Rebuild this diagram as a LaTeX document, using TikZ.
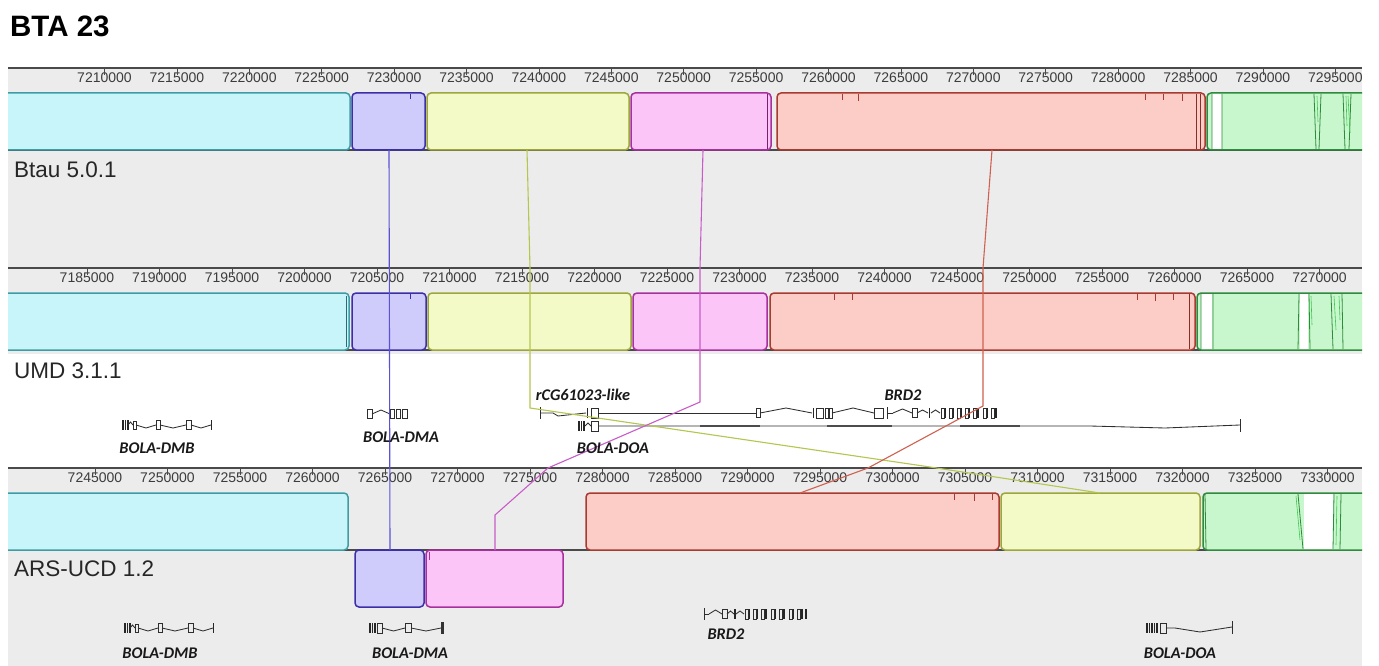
\documentclass[tikz,border=0pt]{standalone}
\usepackage{fontspec}
\setmainfont{Liberation Sans}
\newfontfamily\genefont{Carlito}
\usetikzlibrary{calc}

\definecolor{panelgray}{HTML}{ECECEC}
\definecolor{rulerdark}{HTML}{4A4A4A}
\definecolor{ticktext}{HTML}{3C3C3C}
\definecolor{cyanF}{HTML}{C8F5FA}
\definecolor{cyanD}{HTML}{3E9CA4}
\definecolor{blueF}{HTML}{CFCBFA}
\definecolor{blueD}{HTML}{3A2FA8}
\definecolor{yelF}{HTML}{F3FAC8}
\definecolor{yelD}{HTML}{9CA63A}
\definecolor{pinkF}{HTML}{FBC6F7}
\definecolor{pinkD}{HTML}{A8309E}
\definecolor{redF}{HTML}{FCCDC6}
\definecolor{redD}{HTML}{A83A30}
\definecolor{grnF}{HTML}{C9F7CD}
\definecolor{grnD}{HTML}{2E8A3C}
\definecolor{grnL}{HTML}{3CC84E}
\definecolor{cBlue}{HTML}{5B50D6}
\definecolor{cOlive}{HTML}{B5C64E}
\definecolor{cPink}{HTML}{C85CC8}
\definecolor{cRed}{HTML}{D0604F}

\tikzset{
 panel/.style={fill=panelgray, draw=none},
 rulerline/.style={draw=rulerdark, line width=1.3pt},
 tickmark/.style={draw=rulerdark, line width=0.6pt},
 ticklab/.style={font=\fontsize{14}{16}\selectfont, text=ticktext, inner sep=0pt},
 lcb/.style={rounded corners=4pt, line width=1.5pt, inner sep=0pt, outer sep=0pt},
 baseline/.style={draw=rulerdark, line width=1.3pt},
 conn/.style={line width=1.1pt},
 titlestyle/.style={font=\bfseries\fontsize{29.5}{33}\selectfont, anchor=base west, inner sep=0pt},
 genome/.style={font=\fontsize{22.5}{26}\selectfont, text=black!85, anchor=base west, inner sep=0pt},
 genelab/.style={font=\genefont\bfseries\itshape\fontsize{16.3}{18}\selectfont, text=black!90, inner sep=0pt},
 glyph/.style={draw=black!82, line width=0.85pt},
 thinbar/.style={draw=black!85, line width=1.2pt},
 inner/.style={line width=0.8pt},
}

% name x1 y1 x2 y2 colour-prefix
\newcommand\lcbblock[6]{%
  \node[lcb, draw=#6D, fill=#6F, minimum width={(#4-#2)*1pt}, minimum height={(#5-#3)*1pt}] (#1) at ({(#2+#4)/2},{(#3+#5)/2}) {};}
% exon box: x y w h
\newcommand\gnex[4]{\draw[glyph] (#1,{#2-#4/2}) rectangle ({#1+#3},{#2+#4/2});}
% thin filled exon: x y h
\newcommand\gnbar[3]{\draw[thinbar] (#1,{#2-#3/2}) -- (#1,{#2+#3/2});}
% intron: x1 x2 y depth
\newcommand\gnint[4]{\draw[glyph] (#1,#3) -- ({(#1+#2)/2},{#3+#4}) -- (#2,#3);}

\begin{document}
\begin{tikzpicture}[x=1pt,y=-1pt]
\useasboundingbox (0,0) rectangle (1379,666);
\fill[white] (0,0) rectangle (1379,666);

\node[titlestyle] (title) at (10,37) {BTA 23};

% panel backgrounds
\fill[panel] (8,68) rectangle (1362,268);
\fill[panel] (8,268) rectangle (1362,354);
\fill[panel] (8,468) rectangle (1362,666);

\begin{scope}
\clip (8,60) rectangle (1362,666);

% ---------- rulers ----------
\foreach \k in {0,...,17}{
  \pgfmathsetmacro\xx{104.5+72.4*\k}
  \pgfmathtruncatemacro\vv{7210+5*\k}
  \node[ticklab] (ra\k) at (\xx,78) {\vv000};
  \draw[tickmark] (\xx,68) -- (\xx,75);
  \pgfmathsetmacro\xb{87+72.5*\k}
  \pgfmathtruncatemacro\vb{7185+5*\k}
  \node[ticklab] (rb\k) at (\xb,278) {\vb000};
  \draw[tickmark] (\xb,268) -- (\xb,275);
  \pgfmathsetmacro\xc{95+72.5*\k}
  \pgfmathtruncatemacro\vc{7245+5*\k}
  \node[ticklab] (rc\k) at (\xc,478) {\vc000};
  \draw[tickmark] (\xc,468) -- (\xc,475);
}
\draw[rulerline] (8,68) -- (1362,68);
\draw[rulerline] (8,268) -- (1362,268);
\draw[rulerline] (8,468) -- (1362,468);

% baselines
\draw[baseline] (8,150) -- (1362,150);
\draw[baseline] (8,350) -- (1362,350);
\draw[baseline] (8,550) -- (1362,550);

% ---------- track 1 blocks ----------
\lcbblock{aCyan}{-10}{93}{350}{150}{cyan}
\lcbblock{aBlue}{352}{93}{425}{150}{blue}
\lcbblock{aYel}{427}{93}{629}{150}{yel}
\lcbblock{aPink}{631}{93}{771}{150}{pink}
\lcbblock{aRed}{777}{93}{1205}{150}{red}
\lcbblock{aGrn}{1207}{93}{1385}{150}{grn}
\draw[blueD, inner] (410,94) -- (410,99);
\draw[pinkD!70!black, inner] (767,94) -- (767,149);
\draw[redD, line width=0.6pt] (842,94) -- (842,100) (858,94) -- (858,101) (1145,94) -- (1145,100) (1163,94) -- (1163,100) (1182,94) -- (1182,101);
\draw[redD!80!black, inner] (1196,94) -- (1196,149) (1200,94) -- (1200,149);
\fill[white] (1212,94) rectangle (1222,149);
\draw[grnD, inner] (1212,94) -- (1212,149) (1222,94) -- (1222,149) (1314,94) -- (1316,149) (1321,94) -- (1319,149) (1343,94) -- (1345,149) (1351,94) -- (1349,149);
\draw[grnL, line width=0.6pt] (1317,96) -- (1318,122) (1346,96) -- (1347,126) (1348,96) -- (1350,133);

% ---------- track 2 blocks ----------
\lcbblock{bCyan}{-10}{293}{349}{350}{cyan}
\lcbblock{bBlue}{352}{293}{426}{350}{blue}
\lcbblock{bYel}{428}{293}{631}{350}{yel}
\lcbblock{bPink}{633}{293}{767}{350}{pink}
\lcbblock{bRed}{770}{293}{1195}{350}{red}
\lcbblock{bGrn}{1197}{293}{1385}{350}{grn}
\draw[cyanD!70!black, inner] (346,296) -- (346,347);
\draw[blueD, inner] (410,294) -- (410,299);
\draw[redD, line width=0.6pt] (834,294) -- (834,300) (852,294) -- (852,300) (1137,294) -- (1137,300) (1155,294) -- (1155,301) (1173,294) -- (1173,300);
\draw[redD!80!black, inner] (1189,294) -- (1189,349);
\fill[white] (1201,294) rectangle (1212,349);
\fill[white] (1300,294) rectangle (1308,349);
\draw[grnD, inner] (1201,294) -- (1201,349) (1213,294) -- (1213,349) (1299,294) -- (1298,349) (1309,294) -- (1310,349) (1331,294) -- (1333,349) (1342,294) -- (1343,349);
\draw[grnL, line width=0.6pt] (1311,296) -- (1312,325) (1334,296) -- (1336,330) (1339,296) -- (1340,320);

% ---------- track 3 blocks ----------
\lcbblock{cCyan}{-10}{493}{348}{550}{cyan}
\lcbblock{cRed}{586}{493}{999}{550}{red}
\lcbblock{cYel}{1001}{493}{1200}{550}{yel}
\lcbblock{cGrn}{1203}{493}{1385}{550}{grn}
\lcbblock{cBlue}{355}{550}{424}{607}{blue}
\lcbblock{cPink}{426}{550}{563}{607}{pink}
\draw[redD, line width=0.6pt] (954,494) -- (954,500) (974,494) -- (974,501) (992,494) -- (992,500);
\draw[pinkD, inner] (429,552) -- (429,560);
\fill[white] (1304,494) rectangle (1333,549);
\draw[grnD, inner] (1205,494) -- (1206,549) (1298,494) -- (1303,549) (1334,494) -- (1333,549) (1341,494) -- (1340,549);
\draw[grnL, line width=0.6pt] (1296,496) -- (1300,540) (1337,496) -- (1336,545);
\end{scope}

% ---------- annotation glyphs, track 2 ----------
% BOLA-DMB
\gnbar{123}{425}{10} \gnbar{125.5}{425}{10} \gnbar{128}{425}{10}
\gnint{128}{133}{425}{-3} \gnex{133}{425}{3}{8}
\gnint{136}{156}{425}{3} \gnex{156}{425}{4}{9}
\gnint{160}{186}{425}{3} \gnex{186}{425}{5}{9}
\gnint{191}{211}{425}{3} \gnbar{211.5}{425}{10}
% BOLA-DMA
\gnex{367}{414}{5}{9} \gnint{372}{390}{414}{-4}
\gnex{390}{414}{4}{9} \gnex{396}{414}{4}{9} \gnex{402}{414}{5}{9}
% rCG61023-like (upper line)
\draw[glyph] (540,407) -- (540,419);
\draw[glyph] (540,413) -- (553,413) -- (558,416) -- (586,413);
\gnbar{587.5}{413}{10} \gnex{591}{413}{7}{10}
\draw[glyph] (598,413) -- (756,413);
\gnex{756}{413}{4}{9} \gnint{760}{812}{413}{-5}
\gnbar{813.5}{413}{10} \gnex{816}{413}{7}{10} \gnex{825}{413}{3}{10} \gnex{829}{413}{3}{10}
\gnint{832}{874}{413}{-5} \gnex{874}{413}{9}{10}
% BRD2 (upper)
\draw[glyph] (887,407) -- (887,419);
\draw[glyph] (887,413) -- (893,413);
\gnint{893}{912}{413}{-4} \gnex{912}{413}{5}{9}
\gnint{917}{928}{413}{-3} \gnbar{929.5}{413}{10}
\gnint{931}{940}{413}{-3}
\foreach \p in {941,949,957,965,973,983,991}{\gnex{\p}{413}{3}{10}}
\foreach \p in {945.5,953.5,961.5,969.5,978,987.5,996}{\gnbar{\p}{413}{10}}
% BOLA-DOA + long lower line
\gnbar{579}{426}{10} \gnbar{581.5}{426}{10} \gnbar{584}{426}{10}
\gnint{585}{591}{426}{-3} \gnex{591}{426}{7}{10}
\draw[glyph] (598,426) -- (1090,426) -- (1165,428) -- (1240,425);
\draw[black!70, line width=1.5pt] (700,426) -- (760,426) (827,426) -- (892,426) (960,426) -- (1020,426);
\draw[glyph] (1240,419) -- (1240,432);

% ---------- annotation glyphs, track 3 ----------
% BOLA-DMB
\gnbar{125}{628}{10} \gnbar{127.5}{628}{10} \gnbar{130}{628}{10}
\gnint{130}{135}{628}{-3} \gnex{135}{628}{3}{8}
\gnint{138}{158}{628}{3} \gnex{158}{628}{4}{9}
\gnint{162}{188}{628}{3} \gnex{188}{628}{5}{9}
\gnint{193}{213}{628}{3} \gnbar{213.5}{628}{10}
% BOLA-DMA
\gnbar{370}{628}{10} \gnbar{372.5}{628}{10} \gnbar{375}{628}{10}
\gnex{377}{628}{5}{10}
\gnint{382}{405}{628}{3} \gnex{405}{628}{6}{9}
\gnint{411}{441}{628}{3}
\draw[black!80, line width=2.2pt] (442.5,622) -- (442.5,634);
% BRD2
\draw[glyph] (704,608) -- (704,620);
\draw[glyph] (704,614) -- (709,614);
\gnint{709}{722}{614}{-4} \gnex{722}{614}{5}{9}
\gnint{727}{734}{614}{-3} \gnbar{735}{614}{10}
\gnint{736}{744}{614}{-3}
\foreach \p in {745,753,761,771,779,789,797}{\gnex{\p}{614}{3}{10}}
\foreach \p in {749.5,757.5,766,775.5,784,793.5,802,806}{\gnbar{\p}{614}{10}}
% BOLA-DOA
\foreach \p in {1147,1149.5,1152,1154.5,1157}{\gnbar{\p}{628}{10}}
\gnex{1160}{628}{6}{10}
\draw[glyph] (1166,628) -- (1175,628) -- (1200,632) -- (1232,627);
\draw[glyph] (1232,621) -- (1232,634);

% ---------- connectors ----------
\coordinate (blueA) at (389,150);
\coordinate (blueB) at (390,550);
\draw[conn, cBlue] (blueA) -- (blueB);

\coordinate (oliA) at (527,150);
\coordinate (oliK) at (530,268);
\coordinate (oliB) at (530,408);
\coordinate (oliC) at (930,467);
\coordinate (oliD) at (1100,493);
\draw[conn, cOlive] (oliA) -- (oliK) -- (oliB) -- (oliC) -- (oliD);

\coordinate (pinA) at (703,150);
\coordinate (pinK) at (700,268);
\coordinate (pinB) at (700,402);
\coordinate (pinC) at (548,468);
\coordinate (pinD) at (495,515);
\coordinate (pinE) at (495,550);
\draw[conn, cPink] (pinA) -- (pinK) -- (pinB) -- (pinC) -- (pinD) -- (pinE);

\coordinate (redA) at (992,150);
\coordinate (redK) at (983,268);
\coordinate (redB) at (983,406);
\coordinate (redC) at (868,468);
\coordinate (redD) at (800,493);
\draw[conn, cRed] (redA) -- (redK) -- (redB) -- (redC) -- (redD);

% ---------- labels ----------
\node[genome] (gBtau) at (14,178) {Btau 5.0.1};
\node[genome] (gUmd) at (14,378) {UMD 3.1.1};
\node[genome] (gArs) at (14,576) {ARS-UCD 1.2};

\node[genelab] (lDmbA) at (157,448) {BOLA-DMB};
\node[genelab] (lDmaA) at (401,437) {BOLA-DMA};
\node[genelab] (lRcg) at (583,395) {rCG61023-like};
\node[genelab] (lDoaA) at (613,448) {BOLA-DOA};
\node[genelab] (lBrdA) at (903,395) {BRD2};

\node[genelab] (lDmbB) at (160,653) {BOLA-DMB};
\node[genelab] (lDmaB) at (410,653) {BOLA-DMA};
\node[genelab] (lBrdB) at (726,634) {BRD2};
\node[genelab] (lDoaB) at (1180,653) {BOLA-DOA};
\end{tikzpicture}
\end{document}
